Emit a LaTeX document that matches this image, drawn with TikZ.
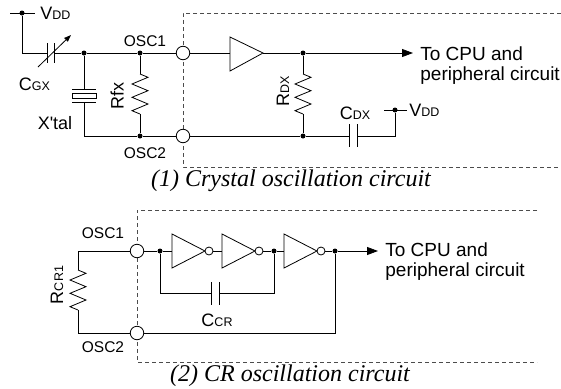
\documentclass[tikz,border=0pt]{standalone}
\usepackage{fontspec}
\setmainfont{Liberation Sans}
\newfontfamily\capfont{Liberation Serif}
\usetikzlibrary{arrows.meta}
\newcommand\sbx[1]{{\fontsize{12.5}{12.5}\selectfont #1}}
\begin{document}
\begin{tikzpicture}[x=1pt,y=-1pt, line width=0.8pt,
  dot/.style={circle,fill=black,inner sep=0pt,minimum size=5pt},
  pinc/.style={circle,draw,fill=white,inner sep=0pt,minimum size=13.5pt},
  bub/.style={circle,draw,fill=white,inner sep=0pt,minimum size=8pt},
  frame/.style={draw=black!70, line width=0.7pt, dash pattern=on 4pt off 3pt},
  outarrow/.style={-{Triangle[length=11pt,width=8pt]}},
  lbl/.style={inner sep=0pt,font=\fontsize{18}{18}\selectfont},
  big/.style={inner sep=0pt,font=\fontsize{19}{19}\selectfont},
  osc/.style={inner sep=0pt,font=\fontsize{15.5}{15.5}\selectfont},
  captxt/.style={inner sep=0pt,font=\capfont\itshape\fontsize{24}{24}\selectfont},
  plate/.style={line width=0.9pt},
  pics/zz/.style={code={\draw (0,0) -- (8,3.3) -- (-8,10) -- (8,16.7) -- (-8,23.3) -- (8,30) -- (-8,36.7) -- (0,40);}}
]
\useasboundingbox (0,0) rectangle (561,388);

% ---------- (1) crystal ----------
\draw[frame] (561,13) -| (183,167) -- (561,167);

\coordinate (vtl) at (10,13); \coordinate (vtr) at (35,13);
\node[dot] (v1) at (22,13) {};
\node[lbl, anchor=west] (vdd1) at (40,13) {V\sbx{DD}};
\draw (vtl) -- (vtr);

\coordinate (c1a) at (47,53); \coordinate (c1b) at (54,53);
\draw (v1) |- (c1a);
\draw[plate] (47,43) -- (47,63);
\draw[plate] (54,43) -- (54,63);
\draw[-{Triangle[length=7pt,width=5pt]}] (38,67) -- (71,35);
\node[lbl] (cgx) at (34.5,84) {C\sbx{GX}};

\node[dot] (j1) at (84,53) {};
\node[dot] (j2) at (140,53) {};
\node[pinc] (osc1) at (183,53) {};
\draw (c1b) -- (j1) -- (j2) -- (osc1);

\coordinate (xt) at (84,89); \coordinate (xb) at (84,102);
\draw (j1) -- (xt);
\draw[plate] (72,89) -- (96,89);
\draw (72,93) rectangle (96,98);
\draw[plate] (72,102) -- (96,102);
\node[lbl] (xtal) at (55,123.5) {X\textquotesingle tal};

\node[dot] (j3) at (140,136) {};
\node[pinc] (osc2) at (183,136) {};
\draw (xb) |- (j3) -- (osc2);

\coordinate (rfxT) at (140,74); \coordinate (rfxB) at (140,114);
\draw (j2) -- (rfxT); \pic at (rfxT) {zz}; \draw (rfxB) -- (j3);
\node[lbl, rotate=90] (rfx) at (117,96) {Rfx};

\node[osc] (o1l) at (145,41) {OSC1};
\node[osc] (o2l) at (145,153) {OSC2};

\coordinate (b1) at (230,53); \coordinate (b1o) at (263,53);
\draw (230,37) -- (b1o) -- (230,71) -- cycle;
\draw (osc1) -- (b1);
\node[dot] (j4) at (303,53) {};
\coordinate (out1) at (413,53);
\draw (b1o) -- (j4);
\draw[outarrow] (j4) -- (out1);
\node[big, anchor=base west] (t1) at (420,60) {To CPU and};
\node[big, anchor=base west] (t2) at (420,80) {peripheral circuit};

\coordinate (rdxT) at (303,74); \coordinate (rdxB) at (303,114);
\draw (j4) -- (rdxT); \pic at (rdxT) {zz};
\node[dot] (j5) at (303,136) {};
\draw (rdxB) -- (j5);
\node[lbl, rotate=90] (rdx) at (283,91) {R\sbx{DX}};

\coordinate (cdxL) at (349,136); \coordinate (cdxR) at (357,136);
\draw (osc2) -- (j5) -- (cdxL);
\draw[plate] (349,124) -- (349,147);
\draw[plate] (357,124) -- (357,147);
\node[lbl] (cdx) at (355,113) {C\sbx{DX}};
\node[dot] (v2) at (395,110) {};
\draw (cdxR) -| (v2);
\coordinate (v2l) at (384,110); \coordinate (v2r) at (407,110);
\draw (v2l) -- (v2r);
\node[lbl, anchor=west] (vdd2) at (409,110) {V\sbx{DD}};

\node[captxt] (cap1) at (291,181) {(1) Crystal oscillation circuit};

% ---------- (2) CR ----------
\draw[frame] (537,210) -- (137,210) -- (137,362) -- (537,362);
\node[pinc] (osc3) at (137,251) {};
\node[pinc] (osc4) at (137,333) {};
\node[osc] (o3l) at (103,233.5) {OSC1};
\node[osc] (o4l) at (103,347.5) {OSC2};

\coordinate (rT) at (78,270); \coordinate (rB) at (78,310);
\draw (osc3) -| (rT); \pic at (rT) {zz}; \draw (rB) |- (osc4);
\node[lbl, rotate=90] (rcr) at (57,285) {R\sbx{CR1}};

\node[dot] (j6) at (160,251) {};
\coordinate (i1) at (172,251); \coordinate (i1o) at (205,251);
\draw (osc3) -- (j6) -- (i1);
\draw (172,234) -- (i1o) -- (172,268) -- cycle;
\node[bub] (bb1) at (209,251) {};
\coordinate (i2) at (222,251); \coordinate (i2o) at (255,251);
\draw (bb1) -- (i2);
\draw (222,234) -- (i2o) -- (222,268) -- cycle;
\node[bub] (bb2) at (259,251) {};
\node[dot] (j7) at (274,251) {};
\coordinate (i3) at (284,251); \coordinate (i3o) at (317,251);
\draw (bb2) -- (j7) -- (i3);
\draw (284,234) -- (i3o) -- (284,268) -- cycle;
\node[bub] (bb3) at (321,251) {};
\node[dot] (j8) at (335,251) {};
\coordinate (out2) at (378,251);
\draw (bb3) -- (j8);
\draw[outarrow] (j8) -- (out2);
\node[big, anchor=base west] (t3) at (385,256) {To CPU and};
\node[big, anchor=base west] (t4) at (385,276) {peripheral circuit};

\coordinate (ccrL) at (211,293); \coordinate (ccrR) at (219,293);
\draw (j6) |- (ccrL);
\draw[plate] (211,282) -- (211,305);
\draw[plate] (219,282) -- (219,305);
\draw (ccrR) -| (j7);
\node[lbl] (ccr) at (217,320) {C\sbx{CR}};
\draw (j8) |- (osc4);

\node[captxt] (cap2) at (290,376) {(2) CR oscillation circuit};
\end{tikzpicture}
\end{document}
